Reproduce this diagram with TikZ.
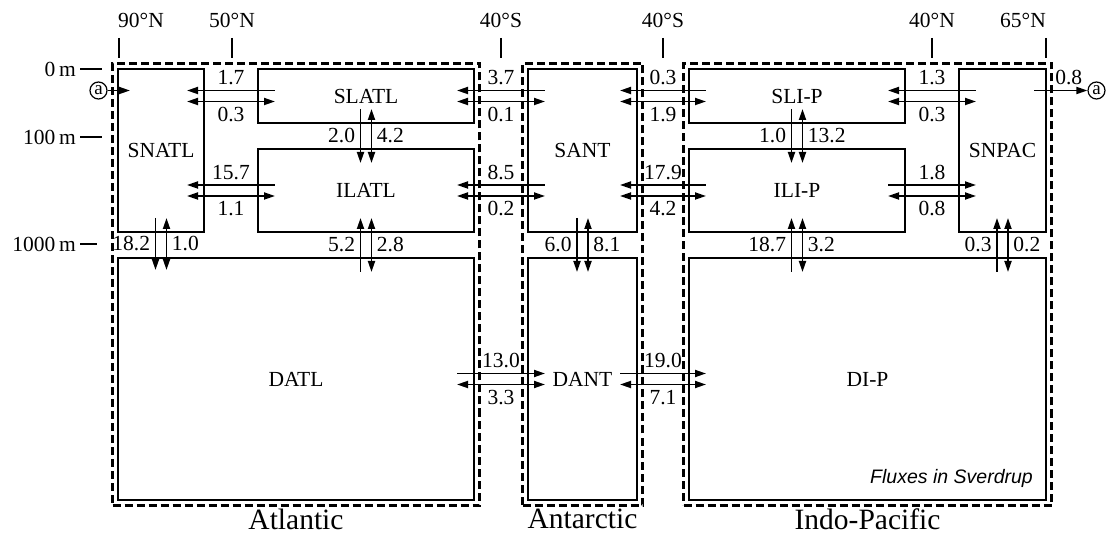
\documentclass[tikz,border=0pt]{standalone}
\usepackage{fontspec}
\setmainfont{Liberation Serif}
\newfontfamily\notefont{Liberation Sans}
\usetikzlibrary{arrows.meta, positioning, fit, calc}

\begin{document}
\begin{tikzpicture}[x=1pt, y=-1pt,
		font=\fontsize{21.5}{25}\selectfont,
		>={Triangle[length=11pt, width=7pt]},
		box/.style={
			rectangle,
			draw,
			line width=2.4pt,
			inner sep=0pt,
			outer sep=0pt,
			align=center
		},
		region/.style={
			rectangle,
			draw,
			line width=2.2pt,
			dash pattern=on 8pt off 4pt,
			inner sep=5.5pt,
			outer sep=0pt
		},
		basin/.style={inner sep=0pt, font=\fontsize{29.5}{32}\selectfont},
		latlabel/.style={inner sep=0pt},
		tickmark/.style={line width=2.4pt},
		flux/.style={line width=1.8pt},
		val/.style={inner sep=4.5pt},
		ring/.style={circle, draw, line width=1.2pt, inner sep=0pt, minimum size=17pt,
			font=\fontsize{19}{19}\selectfont}]

		\useasboundingbox (0,0) rectangle (1106,534);

		% boxes
		\node [box, minimum width=86, minimum height=163] (snatl) at (161,150.5) {SNATL};
		\node [box, minimum width=216, minimum height=54] (slatl) at (366,96) {SLATL};
		\node [box, minimum width=216, minimum height=83, below=26pt of slatl] (ilatl) {ILATL};
		\node [box, minimum width=356, minimum height=242] (datl) at (296,379) {DATL};
		\node [box, minimum width=109, minimum height=163] (sant) at (582.5,150.5) {SANT};
		\node [box, minimum width=109, minimum height=242, below=26pt of sant] (dant) {DANT};
		\node [box, minimum width=216, minimum height=54] (slip) at (797,96) {SLI-P};
		\node [box, minimum width=216, minimum height=83, below=26pt of slip] (ilip) {ILI-P};
		\node [box, minimum width=87, minimum height=163] (snpac) at (1002.5,150.5) {SNPAC};
		\node [box, minimum width=357, minimum height=242] (dip) at (867.5,379) {DI-P};

		% basins
		\node [region, fit=(snatl)(datl)] (atlantic) {};
		\node [region, fit=(sant)(dant)] (antarctic) {};
		\node [region, fit=(slip)(snpac)(dip)] (indopac) {};
		\node [basin, below=3pt of atlantic] (atlname) {Atlantic};
		\node [basin, below=3pt of antarctic] (antname) {Antarctic};
		\node [basin, below=3pt of indopac] (ipname) {Indo-Pacific};

		% latitudes and depths
		\node [latlabel, anchor=base west] (lat90) at (118,28) {90°N};
		\node [latlabel, anchor=base] (lat50) at (232,28) {50°N};
		\node [latlabel, anchor=base] (lat40sa) at (501,28) {40°S};
		\node [latlabel, anchor=base] (lat40sb) at (663,28) {40°S};
		\node [latlabel, anchor=base] (lat40n) at (932,28) {40°N};
		\node [latlabel, anchor=base east] (lat65) at (1046,28) {65°N};
		\draw [tickmark] (118.7,38) -- (118.7,58);
		\draw [tickmark] (232,38) -- (232,58);
		\draw [tickmark] (501,38) -- (501,58);
		\draw [tickmark] (663,38) -- (663,58);
		\draw [tickmark] (932,38) -- (932,58);
		\draw [tickmark] (1045.7,38) -- (1045.7,58);

		\node [latlabel, anchor=east] (d0) at (76,69) {0\,m};
		\node [latlabel, anchor=east] (d100) at (76,137) {100\,m};
		\node [latlabel, anchor=east] (d1000) at (76,244) {1000\,m};
		\draw [tickmark] (80,69) -- (102,69);
		\draw [tickmark] (80,137) -- (102,137);
		\draw [tickmark] (80,244) -- (97,244);

		\node [anchor=base east, inner sep=0pt, font=\notefont\itshape\fontsize{19.5}{22}\selectfont]
			(units) at ($(dip.south east)+(-13,-17)$) {Fluxes in Sverdrup};

		% horizontal fluxes
		\draw [flux, <-] ($(snatl.east |- slatl)+(-17,-5.5)$) -- node[above, val] (h1a) {1.7} ($(slatl.west)+(17,-5.5)$);
		\draw [flux, <->] ($(snatl.east |- slatl)+(-17,5.5)$) -- node[below, val] (h1b) {0.3} ($(slatl.west)+(17,5.5)$);
		\draw [flux, <-] ($(snatl.east |- ilatl)+(-17,-5.5)$) -- node[above, val] (h2a) {15.7} ($(ilatl.west)+(17,-5.5)$);
		\draw [flux, <->] ($(snatl.east |- ilatl)+(-17,5.5)$) -- node[below, val] (h2b) {1.1} ($(ilatl.west)+(17,5.5)$);
		\draw [flux, <-] ($(slatl.east)+(-17,-5.5)$) -- node[above, val] (h3a) {3.7} ($(sant.west |- slatl)+(17,-5.5)$);
		\draw [flux, <->] ($(slatl.east)+(-17,5.5)$) -- node[below, val] (h3b) {0.1} ($(sant.west |- slatl)+(17,5.5)$);
		\draw [flux, <-] ($(ilatl.east)+(-17,-5.5)$) -- node[above, val] (h4a) {8.5} ($(sant.west |- ilatl)+(17,-5.5)$);
		\draw [flux, <->] ($(ilatl.east)+(-17,5.5)$) -- node[below, val] (h4b) {0.2} ($(sant.west |- ilatl)+(17,5.5)$);
		\draw [flux, ->] ($(datl.east)+(-17,-5.5)$) -- node[above, val] (h5a) {13.0} ($(dant.west)+(17,-5.5)$);
		\draw [flux, <->] ($(datl.east)+(-17,5.5)$) -- node[below, val] (h5b) {3.3} ($(dant.west)+(17,5.5)$);
		\draw [flux, <-] ($(sant.east |- slip)+(-17,-5.5)$) -- node[above, val] (h6a) {0.3} ($(slip.west)+(17,-5.5)$);
		\draw [flux, <->] ($(sant.east |- slip)+(-17,5.5)$) -- node[below, val] (h6b) {1.9} ($(slip.west)+(17,5.5)$);
		\draw [flux, <-] ($(sant.east |- ilip)+(-17,-5.5)$) -- node[above, val] (h7a) {17.9} ($(ilip.west)+(17,-5.5)$);
		\draw [flux, <->] ($(sant.east |- ilip)+(-17,5.5)$) -- node[below, val] (h7b) {4.2} ($(ilip.west)+(17,5.5)$);
		\draw [flux, ->] ($(dant.east)+(-17,-5.5)$) -- node[above, val] (h8a) {19.0} ($(dip.west)+(17,-5.5)$);
		\draw [flux, <->] ($(dant.east)+(-17,5.5)$) -- node[below, val] (h8b) {7.1} ($(dip.west)+(17,5.5)$);
		\draw [flux, <-] ($(slip.east)+(-17,-5.5)$) -- node[above, val] (h9a) {1.3} ($(snpac.west |- slip)+(17,-5.5)$);
		\draw [flux, <->] ($(slip.east)+(-17,5.5)$) -- node[below, val] (h9b) {0.3} ($(snpac.west |- slip)+(17,5.5)$);
		\draw [flux, ->] ($(ilip.east)+(-17,-5.5)$) -- node[above, val] (h10a) {1.8} ($(snpac.west |- ilip)+(17,-5.5)$);
		\draw [flux, <->] ($(ilip.east)+(-17,5.5)$) -- node[below, val] (h10b) {0.8} ($(snpac.west |- ilip)+(17,5.5)$);

		% vertical fluxes
		\draw [flux, ->] ($(slatl.south)+(-5.5,-14)$) -- node[left, val] (v1a) {2.0} ($(ilatl.north)+(-5.5,14)$);
		\draw [flux, <->] ($(slatl.south)+(5.5,-14)$) -- node[right, val] (v1b) {4.2} ($(ilatl.north)+(5.5,14)$);
		\draw [flux, ->] ($(snatl.south)+(-5.5,-14)$) -- node[left, val] (v2a) {18.2} ($(datl.north -| snatl)+(-5.5,12)$);
		\draw [flux, <->] ($(snatl.south)+(5.5,-14)$) -- node[right, val] (v2b) {1.0} ($(datl.north -| snatl)+(5.5,12)$);
		\draw [flux, <-] ($(ilatl.south)+(-5.5,-14)$) -- node[left, val] (v3a) {5.2} ($(datl.north -| ilatl)+(-5.5,14)$);
		\draw [flux, <->] ($(ilatl.south)+(5.5,-14)$) -- node[right, val] (v3b) {2.8} ($(datl.north -| ilatl)+(5.5,14)$);
		\draw [flux, ->] ($(sant.south)+(-5.5,-14)$) -- node[left, val] (v4a) {6.0} ($(dant.north)+(-5.5,14)$);
		\draw [flux, <->] ($(sant.south)+(5.5,-14)$) -- node[right, val] (v4b) {8.1} ($(dant.north)+(5.5,14)$);
		\draw [flux, ->] ($(slip.south)+(-5.5,-14)$) -- node[left, val] (v5a) {1.0} ($(ilip.north)+(-5.5,14)$);
		\draw [flux, <->] ($(slip.south)+(5.5,-14)$) -- node[right, val] (v5b) {13.2} ($(ilip.north)+(5.5,14)$);
		\draw [flux, <-] ($(ilip.south)+(-5.5,-14)$) -- node[left, val] (v6a) {18.7} ($(dip.north -| ilip)+(-5.5,14)$);
		\draw [flux, <->] ($(ilip.south)+(5.5,-14)$) -- node[right, val] (v6b) {3.2} ($(dip.north -| ilip)+(5.5,14)$);
		\draw [flux, <-] ($(snpac.south)+(-5.5,-14)$) -- node[left, val] (v7a) {0.3} ($(dip.north -| snpac)+(-5.5,14)$);
		\draw [flux, <->] ($(snpac.south)+(5.5,-14)$) -- node[right, val] (v7b) {0.2} ($(dip.north -| snpac)+(5.5,14)$);

		% through-flow
		\node [ring] (ain) at (98.5,90.5) {a};
		\node [ring] (aout) at (1096.5,90.5) {a};
		\draw [flux, ->] (ain) -- ($(snatl.west |- ain)+(12,0)$);
		\draw [flux, ->] ($(snpac.east |- aout)+(-12,0)$) -- node[above, val, pos=0.65] (thru) {0.8} (aout);
	\end{tikzpicture}
\end{document}
